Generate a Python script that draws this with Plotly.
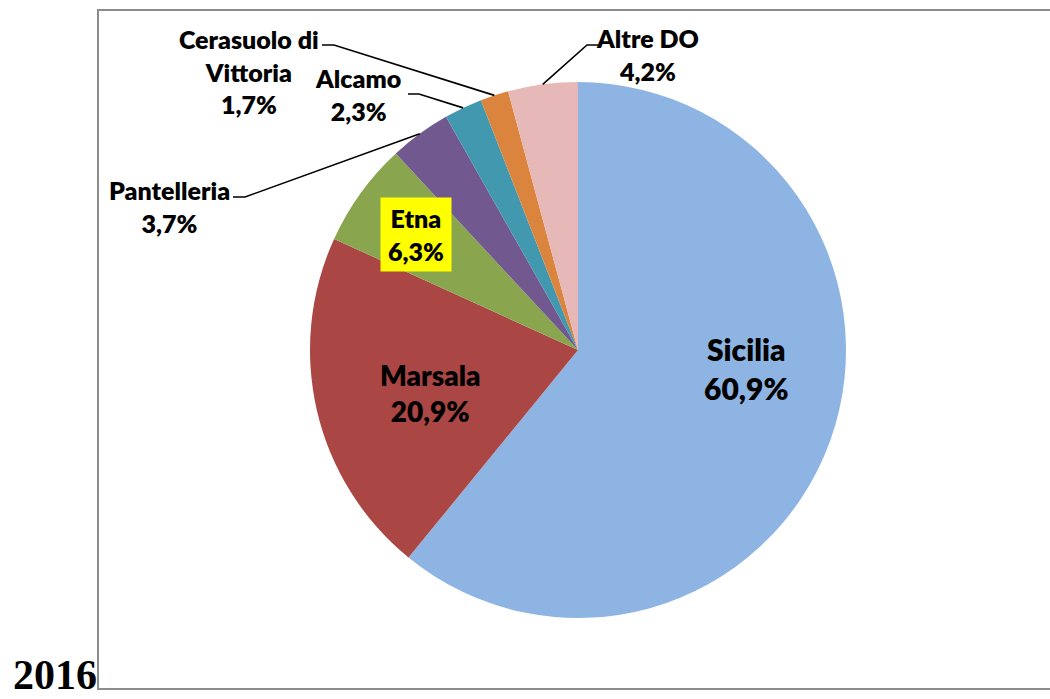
import math
import plotly.graph_objects as go

# ---- data ----
categories = ["Sicilia", "Marsala", "Etna", "Pantelleria", "Alcamo", "Cerasuolo di<br>Vittoria", "Altre DO"]
values = [60.9, 20.9, 6.3, 3.7, 2.3, 1.7, 4.2]
colors = ["#8EB4E3", "#AA4643", "#89A54E", "#71588F", "#4198AF", "#DB843D", "#E6B9B8"]
year_label = "2016"

W, H = 1050, 699
FONT = "Lato"

# pie geometry (pixels)
cx, cy, r = 578, 350, 268


def px(x):
    return x / W


def py(y):
    return 1 - y / H


fig = go.Figure(go.Pie(
    labels=categories,
    values=values,
    sort=False,
    direction="clockwise",
    rotation=0,
    marker=dict(colors=colors, line=dict(width=0)),
    textinfo="none",
    hoverinfo="label+percent",
    showlegend=False,
    domain=dict(x=[px(cx - r), px(cx + r)], y=[py(cy + r), py(cy - r)]),
))


def fmt(v):
    return f"{v:.1f}".replace(".", ",") + "%"


total = sum(values)
mid_angles = []
acc = 0.0
for v in values:
    mid_angles.append((acc + v / 2) / total * 360.0)
    acc += v


def edge_point(i):
    a = math.radians(mid_angles[i])
    return cx + r * math.sin(a), cy - r * math.cos(a)


# label settings: index -> (x, y, font size, leader elbow points or None)
label_pos = {
    0: (746, 368, 30, None),
    1: (430, 393, 28, None),
    2: (416, 234, 25, None),
    3: (169, 206, 25, [(233, 197), (245, 197)]),
    4: (358, 95, 25, [(408, 94), (419, 94)]),
    5: (249, 72, 25, [(322, 45), (334, 45)]),
    6: (647, 55, 25, [(598, 45), (587, 45)]),
}

annotations = []
shapes = []
for i, (lx, ly, fs, leader) in label_pos.items():
    text = f"{categories[i]}<br>{fmt(values[i])}"
    ann = dict(
        x=px(lx), y=py(ly), xref="paper", yref="paper",
        text=text, showarrow=False, xanchor="center", yanchor="middle",
        align="center", font=dict(family=FONT, size=fs, color="black", weight=800),
    )
    if i == 2:
        ann.update(bgcolor="#FFFF00", width=70, height=73, borderpad=0)
    annotations.append(ann)
    if leader:
        ex, ey = edge_point(i)
        pts = leader + [(ex, ey)]
        path = "M " + " L ".join(f"{px(x)},{py(y)}" for x, y in pts)
        shapes.append(dict(type="path", xref="paper", yref="paper", path=path,
                           line=dict(color="black", width=1.6)))

# frame
shapes.append(dict(type="rect", xref="paper", yref="paper",
                   x0=px(98), y0=py(689), x1=px(1070), y1=py(10),
                   line=dict(color="#8C8C8C", width=2), layer="below"))

annotations.append(dict(
    x=px(12), y=py(699), xref="paper", yref="paper", text=f"<b>{year_label}</b>",
    showarrow=False, xanchor="left", yanchor="bottom", borderpad=0,
    font=dict(family="Liberation Serif", size=42, color="black"),
))

fig.update_layout(
    width=W, height=H,
    margin=dict(l=0, r=0, t=0, b=0),
    paper_bgcolor="white", plot_bgcolor="white",
    shapes=shapes, annotations=annotations,
)

fig.write_html(
    "out.html",
    config={"displayModeBar": False},
    post_script="document.body.style.margin='0px';document.body.style.overflow='hidden';",
)
